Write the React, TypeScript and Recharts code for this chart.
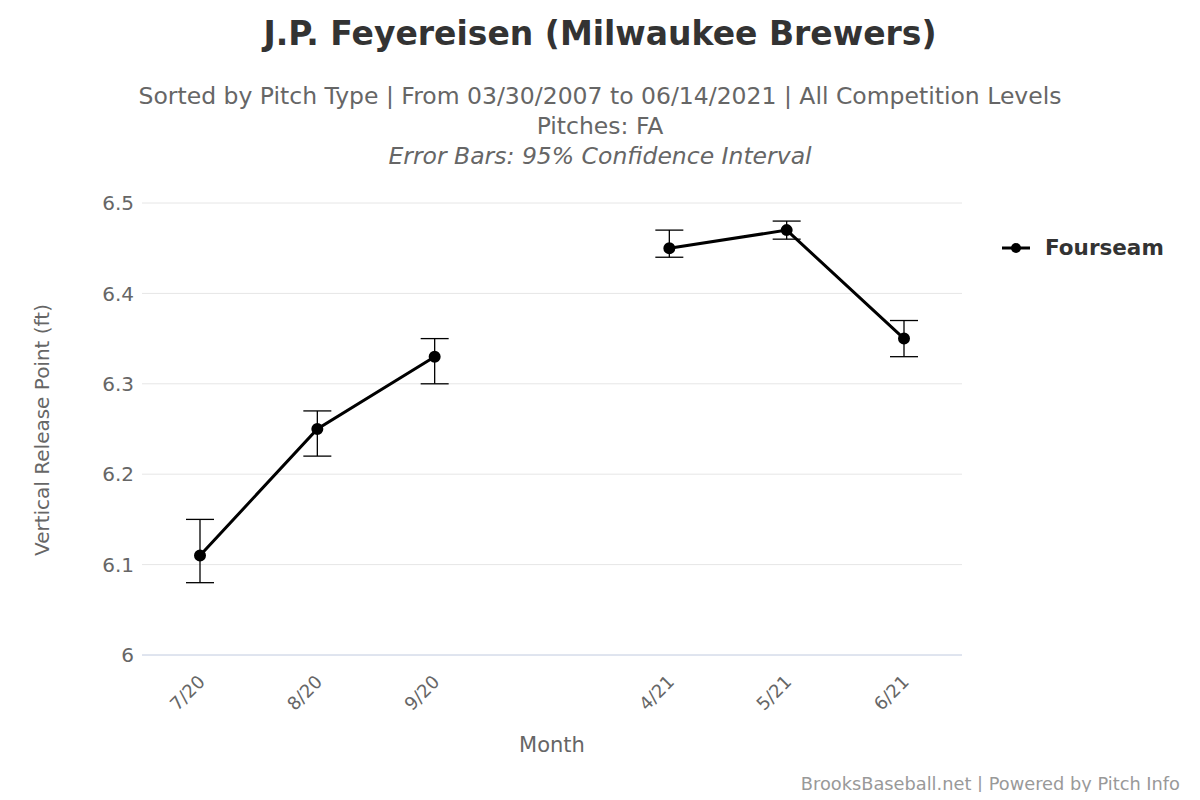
import { LineChart, Line, XAxis, YAxis, CartesianGrid, ErrorBar } from 'recharts';

const months = ['7/20', '8/20', '9/20', '', '4/21', '5/21', '6/21'];
const releaseAvg = [6.11, 6.25, 6.33, null, 6.45, 6.47, 6.35];
const releaseLow = [6.08, 6.22, 6.3, null, 6.44, 6.46, 6.33];
const releaseHigh = [6.15, 6.27, 6.35, null, 6.47, 6.48, 6.37];
const yTicks = [6, 6.1, 6.2, 6.3, 6.4, 6.5];

const data = months.map((m, i) => ({
  month: m,
  value: releaseAvg[i],
  err: releaseAvg[i] == null ? [0, 0] : [releaseAvg[i]! - releaseLow[i]!, releaseHigh[i]! - releaseAvg[i]!],
}));

const font = '"DejaVu Sans", sans-serif';

export default function App() {
  return (
    <div style={{ position: 'relative', width: 1200, height: 800, margin: -8, background: '#fff', fontFamily: font, color: '#333' }}>
      <div style={{ position: 'absolute', top: 14, width: 1200, textAlign: 'center', fontSize: 33, fontWeight: 'bold' }}>
        J.P. Feyereisen (Milwaukee Brewers)
      </div>
      <div style={{ position: 'absolute', top: 81, width: 1200, textAlign: 'center', fontSize: 23.5, color: '#666', lineHeight: '30px' }}>
        <div>Sorted by Pitch Type | From 03/30/2007 to 06/14/2021 | All Competition Levels</div>
        <div>Pitches: FA</div>
        <div style={{ fontStyle: 'italic' }}>Error Bars: 95% Confidence Interval</div>
      </div>
      <div style={{ position: 'absolute', left: 42, top: 430, transform: 'translate(-50%,-50%) rotate(-90deg)', fontSize: 20, color: '#666', whiteSpace: 'nowrap' }}>
        Vertical Release Point (ft)
      </div>
      <div style={{ position: 'absolute', left: 552, top: 733, transform: 'translateX(-50%)', fontSize: 21, color: '#666' }}>Month</div>
      <div style={{ position: 'absolute', left: 1002, top: 235, display: 'flex', alignItems: 'center', fontSize: 21.5, fontWeight: 'bold' }}>
        <svg width={30} height={16}><line x1={0} y1={8} x2={28} y2={8} stroke="#000" strokeWidth={3} /><circle cx={14} cy={8} r={5} fill="#000" /></svg>
        <span style={{ marginLeft: 13 }}>Fourseam</span>
      </div>
      <div style={{ position: 'absolute', right: 20, top: 773, fontSize: 17.8, color: '#999' }}>
        BrooksBaseball.net | Powered by Pitch Info
      </div>
      <div style={{ position: 'absolute', left: 0, top: 0 }}>
        <LineChart width={1200} height={800} data={data} margin={{ top: 203, left: 40, right: 238, bottom: 65 }}>
          <CartesianGrid vertical={false} stroke="#e6e6e6" />
          <XAxis
            dataKey="month"
            tickLine={false}
            axisLine={{ stroke: '#ccd6eb' }}
            interval={0}
            height={80}
            padding={{ left: 58, right: 58 }}
            tick={({ x, y, payload }: any) => (
              <text x={x + 6} y={y + 20} textAnchor="end" transform={`rotate(-45 ${x + 6} ${y + 20})`} fontSize={18} fill="#666" fontFamily={font}>
                {payload.value}
              </text>
            )}
          />
          <YAxis
            domain={[6, 6.5]}
            ticks={yTicks}
            width={102}
            axisLine={false}
            tickLine={false}
            tick={{ fontSize: 20, fill: '#666', fontFamily: font }}
            tickFormatter={(v: number) => String(Math.round(v * 10) / 10)}
          />
          <Line dataKey="value" stroke="#000" strokeWidth={3} dot={{ r: 4.5, fill: '#000', stroke: '#000' }} isAnimationActive={false} connectNulls={false}>
            <ErrorBar dataKey="err" width={14} stroke="#000" strokeWidth={1.3} direction="y" />
          </Line>
        </LineChart>
      </div>
    </div>
  );
}
